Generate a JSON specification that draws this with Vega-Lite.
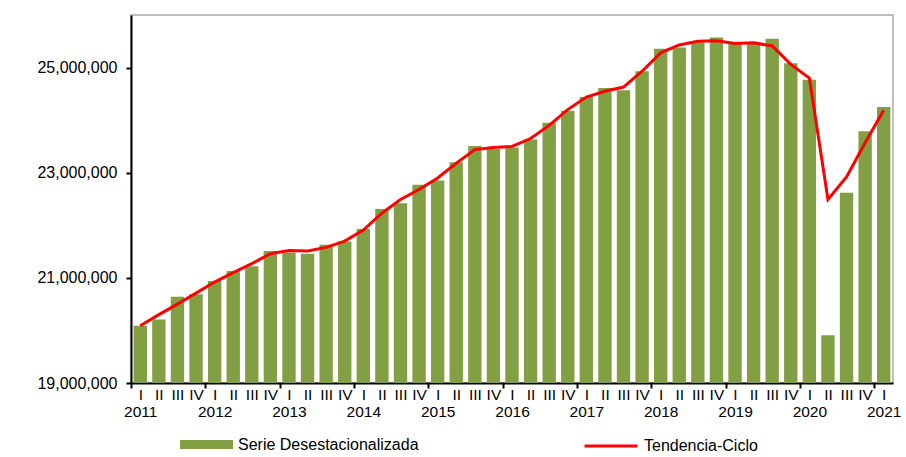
{
  "$schema": "https://vega.github.io/schema/vega-lite/v6.json",
  "width": 762,
  "height": 368,
  "autosize": {"type": "none"},
  "padding": {"left": 131, "top": 15, "right": 13, "bottom": 74},
  "background": "white",
  "config": {
    "view": {"stroke": "#BFBFBF", "strokeWidth": 2},
    "font": "Liberation Sans"
  },
  "data": {
    "values": [
      {"p": "2011Q1", "s": 20090000, "t": 20090000},
      {"p": "2011Q2", "s": 20210000, "t": 20300000},
      {"p": "2011Q3", "s": 20640000, "t": 20500000},
      {"p": "2011Q4", "s": 20690000, "t": 20710000},
      {"p": "2012Q1", "s": 20940000, "t": 20920000},
      {"p": "2012Q2", "s": 21130000, "t": 21100000},
      {"p": "2012Q3", "s": 21220000, "t": 21270000},
      {"p": "2012Q4", "s": 21510000, "t": 21460000},
      {"p": "2013Q1", "s": 21480000, "t": 21520000},
      {"p": "2013Q2", "s": 21460000, "t": 21510000},
      {"p": "2013Q3", "s": 21630000, "t": 21580000},
      {"p": "2013Q4", "s": 21690000, "t": 21700000},
      {"p": "2014Q1", "s": 21930000, "t": 21910000},
      {"p": "2014Q2", "s": 22310000, "t": 22230000},
      {"p": "2014Q3", "s": 22420000, "t": 22490000},
      {"p": "2014Q4", "s": 22770000, "t": 22680000},
      {"p": "2015Q1", "s": 22850000, "t": 22900000},
      {"p": "2015Q2", "s": 23200000, "t": 23180000},
      {"p": "2015Q3", "s": 23510000, "t": 23440000},
      {"p": "2015Q4", "s": 23450000, "t": 23480000},
      {"p": "2016Q1", "s": 23480000, "t": 23500000},
      {"p": "2016Q2", "s": 23630000, "t": 23650000},
      {"p": "2016Q3", "s": 23950000, "t": 23900000},
      {"p": "2016Q4", "s": 24180000, "t": 24200000},
      {"p": "2017Q1", "s": 24440000, "t": 24440000},
      {"p": "2017Q2", "s": 24610000, "t": 24550000},
      {"p": "2017Q3", "s": 24570000, "t": 24630000},
      {"p": "2017Q4", "s": 24930000, "t": 24930000},
      {"p": "2018Q1", "s": 25360000, "t": 25280000},
      {"p": "2018Q2", "s": 25380000, "t": 25430000},
      {"p": "2018Q3", "s": 25480000, "t": 25500000},
      {"p": "2018Q4", "s": 25570000, "t": 25510000},
      {"p": "2019Q1", "s": 25470000, "t": 25460000},
      {"p": "2019Q2", "s": 25470000, "t": 25470000},
      {"p": "2019Q3", "s": 25550000, "t": 25410000},
      {"p": "2019Q4", "s": 25080000, "t": 25060000},
      {"p": "2020Q1", "s": 24770000, "t": 24800000},
      {"p": "2020Q2", "s": 19910000, "t": 22490000},
      {"p": "2020Q3", "s": 22620000, "t": 22920000},
      {"p": "2020Q4", "s": 23790000, "t": 23570000},
      {"p": "2021Q1", "s": 24250000, "t": 24190000}
    ]
  },
  "encoding": {
    "x": {
      "field": "p",
      "type": "ordinal",
      "sort": null,
      "scale": {"paddingInner": 0.28, "paddingOuter": 0.14},
      "axis": {
        "title": null,
        "domainColor": "black",
        "domainWidth": 2,
        "tickColor": "black",
        "tickWidth": 2,
        "tickSize": 5,
        "tickOffset": -9.29,
        "labelOffset": 9.29,
        "tickOpacity": {"condition": {"test": "slice(datum.value,5)=='1'", "value": 1}, "value": 0},
        "labelExpr": "slice(datum.value,5)=='1' ? ['I', slice(datum.value,0,4)] : slice(datum.value,5)=='2' ? 'II' : slice(datum.value,5)=='3' ? 'III' : 'IV'",
        "labelAngle": 0,
        "labelFontSize": 15.5,
        "labelColor": "black",
        "labelPadding": -1,
        "labelLineHeight": 17,
        "labelBaseline": "top",
        "labelOverlap": false,
        "labelBound": false,
        "labelFlush": false
      }
    }
  },
  "layer": [
    {
      "mark": {"type": "bar", "clip": true},
      "encoding": {
        "y": {
          "field": "s",
          "type": "quantitative",
          "scale": {"domain": [19000000, 26000000], "zero": false, "nice": false},
          "axis": {
            "title": null,
            "values": [19000000, 21000000, 23000000, 25000000],
            "format": ",d",
            "grid": false,
            "domainColor": "black",
            "domainWidth": 2,
            "tickColor": "black",
            "tickWidth": 2,
            "tickSize": 5,
            "labelFontSize": 16,
            "labelColor": "black",
            "labelPadding": 9
          }
        },
        "fill": {
          "datum": "Serie Desestacionalizada",
          "type": "nominal",
          "scale": {"range": ["#82A043"]},
          "legend": {
            "title": null,
            "orient": "none",
            "legendX": 49,
            "legendY": 403,
            "padding": 0,
            "symbolType": "M-1,-0.17H1V0.17H-1Z",
            "symbolSize": 2809,
            "symbolStrokeWidth": 0,
            "symbolOpacity": 1,
            "labelFontSize": 16,
            "labelColor": "black",
            "labelOffset": 5,
            "labelLimit": 0
          }
        }
      }
    },
    {
      "mark": {"type": "line", "strokeWidth": 3},
      "encoding": {
        "y": {"field": "t", "type": "quantitative", "axis": {"title": null}},
        "stroke": {
          "datum": "Tendencia-Ciclo",
          "type": "nominal",
          "scale": {"range": ["#FF0000"]},
          "legend": {
            "title": null,
            "orient": "none",
            "legendX": 452,
            "legendY": 403,
            "padding": 0,
            "symbolType": "stroke",
            "symbolSize": 2809,
            "symbolStrokeWidth": 3,
            "labelFontSize": 16,
            "labelColor": "black",
            "labelOffset": 5,
            "labelLimit": 0
          }
        }
      }
    }
  ]
}
